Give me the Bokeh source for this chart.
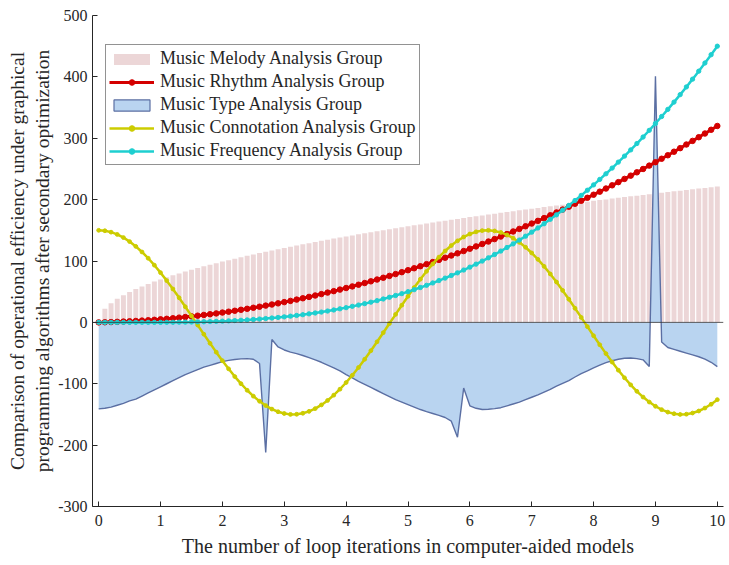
import numpy as np
from bokeh.plotting import figure
from bokeh.models import ColumnDataSource, Legend, LegendItem, FixedTicker, Span
from bokeh.embed import file_html
from bokeh.resources import INLINE

# ---------------- data ----------------
x_iter = [round(i * 0.1, 1) for i in range(101)]

melody = [0.0, 22.1, 31.3, 38.3, 44.3, 49.5, 54.2, 58.6, 62.6, 66.4, 70.0,
          73.4, 76.7, 79.8, 82.8, 85.7, 88.5, 91.3, 93.9, 96.5, 99.0,
          101.4, 103.8, 106.2, 108.4, 110.7, 112.9, 115.0, 117.1, 119.2, 121.2,
          123.2, 125.2, 127.2, 129.1, 131.0, 132.8, 134.6, 136.5, 138.2, 140.0,
          141.7, 143.5, 145.2, 146.8, 148.5, 150.1, 151.8, 153.4, 155.0, 156.5,
          158.1, 159.6, 161.2, 162.7, 164.2, 165.6, 167.1, 168.6, 170.0, 171.5,
          172.9, 174.3, 175.7, 177.1, 178.5, 179.8, 181.2, 182.5, 183.9, 185.2,
          186.5, 187.8, 189.1, 190.4, 191.7, 193.0, 194.2, 195.5, 196.7, 198.0,
          199.2, 200.4, 201.7, 202.9, 204.1, 205.3, 206.5, 207.7, 208.8, 210.0,
          211.2, 212.3, 213.5, 214.6, 215.8, 216.9, 218.0, 219.1, 220.2, 221.4]

rhythm = [0.0, 0.2, 0.5, 0.9, 1.3, 1.8, 2.3, 2.9, 3.5, 4.2, 5.0,
          5.8, 6.7, 7.7, 8.7, 9.8, 10.9, 12.1, 13.3, 14.6, 16.0,
          17.4, 18.9, 20.5, 22.1, 23.8, 25.5, 27.3, 29.1, 31.0, 33.0,
          35.0, 37.1, 39.3, 41.5, 43.8, 46.1, 48.5, 50.9, 53.4, 56.0,
          58.6, 61.3, 64.1, 66.9, 69.8, 72.7, 75.7, 78.7, 81.8, 85.0,
          88.2, 91.5, 94.9, 98.3, 101.8, 105.3, 108.9, 112.5, 116.2, 120.0,
          123.8, 127.7, 131.7, 135.7, 139.8, 143.9, 148.1, 152.3, 156.6, 161.0,
          165.4, 169.9, 174.5, 179.1, 183.8, 188.5, 193.3, 198.1, 203.0, 208.0,
          213.0, 218.1, 223.3, 228.5, 233.8, 239.1, 244.5, 249.9, 255.4, 261.0,
          266.6, 272.3, 278.1, 283.9, 289.8, 295.7, 301.7, 307.7, 313.8, 320.0]

music_type = [-141, -140, -138, -135, -132, -128, -125, -120, -115, -110, -105,
              -100, -95, -90, -85, -81, -77, -73, -70, -67, -64,
              -62, -60.5, -59.5, -59, -60, -67, -212, -28, -40, -45,
              -48.5, -51, -54, -57.5, -61, -65, -69.5, -74, -79, -85,
              -90.5, -96, -101, -106, -111, -116, -121, -126, -130, -134,
              -138, -142, -145.5, -148.5, -151.5, -155, -161, -187, -107, -136,
              -140, -142, -141.5, -140.5, -139, -136, -133, -130, -126, -122,
              -118, -113.5, -109, -104, -99.5, -95, -89, -83.5, -79, -74,
              -69.5, -65.5, -62.5, -60, -58.5, -58, -59, -61, -72, 401,
              -32, -41, -44, -47, -50, -53, -56, -60, -65, -72]

connotation = [150.0, 149.3, 147.0, 143.3, 138.2, 131.6, 123.8, 114.7, 104.5, 93.2, 81.0,
               68.0, 54.4, 40.1, 25.5, 10.6, -4.4, -19.3, -34.1, -48.5, -62.4,
               -75.7, -88.3, -99.9, -110.6, -120.2, -128.5, -135.6, -141.3, -145.6, -148.5,
               -149.9, -149.7, -148.1, -145.0, -140.5, -134.5, -127.2, -118.6, -108.9, -98.0,
               -86.2, -73.5, -60.1, -46.1, -31.6, -16.8, -1.9, 13.1, 28.0, 42.5,
               56.7, 70.3, 83.2, 95.2, 106.3, 116.3, 125.2, 132.8, 139.1, 144.0,
               147.5, 149.5, 150.0, 149.0, 146.5, 142.5, 137.2, 130.4, 122.4, 113.1,
               102.7, 91.3, 78.9, 65.8, 52.0, 37.7, 23.0, 8.1, -6.9, -21.8,
               -36.5, -50.9, -64.7, -77.9, -90.3, -101.8, -112.3, -121.7, -129.8, -136.7,
               -142.2, -146.2, -148.8, -150.0, -149.6, -147.7, -144.4, -139.6, -133.4, -125.9]

frequency = [0.0, 0.0, 0.0, 0.0, 0.0, 0.0, 0.0, 0.0, 0.0, 0.0, 0.0,
             0.1, 0.1, 0.3, 0.4, 0.6, 0.8, 1.0, 1.3, 1.6, 2.0,
             2.4, 2.9, 3.4, 4.0, 4.7, 5.4, 6.2, 7.1, 8.0, 9.0,
             10.1, 11.3, 12.5, 13.9, 15.3, 16.8, 18.5, 20.2, 22.1, 24.0,
             26.1, 28.2, 30.5, 32.9, 35.4, 38.1, 40.9, 43.8, 46.8, 50.0,
             53.3, 56.8, 60.4, 64.2, 68.1, 72.1, 76.4, 80.7, 85.3, 90.0,
             94.9, 99.9, 105.2, 110.6, 116.2, 122.0, 127.9, 134.1, 140.4, 147.0,
             153.8, 160.7, 167.9, 175.2, 182.8, 190.6, 198.6, 206.9, 215.3, 224.0,
             232.9, 242.1, 251.4, 261.1, 270.9, 281.0, 291.4, 302.0, 312.9, 324.0,
             335.4, 347.0, 358.9, 371.1, 383.6, 396.3, 409.3, 422.6, 436.1, 450.0]

series_names = ["Music Melody Analysis Group", "Music Rhythm Analysis Group",
                "Music Type Analysis Group", "Music Connotation Analysis Group",
                "Music Frequency Analysis Group"]

x_ticks = [0, 1, 2, 3, 4, 5, 6, 7, 8, 9, 10]
y_ticks = [-300, -200, -100, 0, 100, 200, 300, 400, 500]
y_tick_labels = ["-300", "-200", "-100", "0", "100", "200", "300", "400", "500"]

x_label = "The number of loop iterations in computer-aided models"
y_label = ("Comparison of operational efficiency under graphical\n"
           "programming algorithms after secondary optimization")

# ---------------- figure ----------------
FONT = "Liberation Serif"
TXT = "#262626"

src = ColumnDataSource(dict(x=x_iter, melody=melody, rhythm=rhythm, mtype=music_type,
                            conn=connotation, freq=frequency,
                            zero=[0] * len(x_iter)))

p = figure(width=729, height=565, x_range=(-0.1, 10.1), y_range=(-300, 500),
           output_backend="svg", toolbar_location=None,
           min_border_left=92, min_border_right=6, min_border_top=15, min_border_bottom=59)
p.outline_line_color = None
p.grid.visible = False
p.background_fill_color = "white"

bars = p.vbar(x="x", top="melody", width=0.08, bottom=0, source=src,
              fill_color="#ecd6d7", line_color=None)

area = p.varea(x="x", y1="zero", y2="mtype", source=src, fill_color="#b9d4f0")
area_edge = p.line(x="x", y="mtype", source=src, line_color="#5b6fa3", line_width=1.4)
# legend-only key for the area (no visible data)
key_src = ColumnDataSource(dict(l=[np.nan], r=[np.nan], t=[np.nan], b=[np.nan]))
area_key = p.quad(left="l", right="r", top="t", bottom="b", source=key_src,
                  fill_color="#b9d4f0", line_color="#5b6fa3", line_width=1.2)

p.add_layout(Span(location=0, dimension="width", line_color="#333333", line_width=0.8))

r_line = p.line(x="x", y="rhythm", source=src, line_color="#d40000", line_width=3)
r_dot = p.scatter(x="x", y="rhythm", source=src, size=5.5, marker="circle",
                  fill_color="#d40000", line_color="#d40000")

c_line = p.line(x="x", y="conn", source=src, line_color="#cccc00", line_width=2.5)
c_dot = p.scatter(x="x", y="conn", source=src, size=3.8, marker="circle",
                  fill_color="#cccc00", line_color="#cccc00")

f_line = p.line(x="x", y="freq", source=src, line_color="#1ecfd0", line_width=2.5)
f_dot = p.scatter(x="x", y="freq", source=src, size=4.3, marker="circle",
                  fill_color="#1ecfd0", line_color="#1ecfd0")

# ---------------- axes ----------------
for ax in (p.xaxis[0], p.yaxis[0]):
    ax.axis_line_color = TXT
    ax.axis_line_width = 1
    ax.major_tick_line_color = TXT
    ax.major_tick_in = 5
    ax.major_tick_out = 0
    ax.minor_tick_line_color = None
    ax.major_label_text_font = FONT
    ax.major_label_text_font_size = "16px"
    ax.major_label_text_color = TXT
    ax.axis_label_text_font = FONT
    ax.axis_label_text_font_style = "normal"
    ax.axis_label_text_color = TXT

p.xaxis[0].axis_label_text_font_size = "20px"
p.yaxis[0].axis_label_text_font_size = "19.5px"
p.xaxis[0].ticker = FixedTicker(ticks=x_ticks)
p.yaxis[0].ticker = FixedTicker(ticks=y_ticks)
p.yaxis[0].major_label_overrides = {t: s for t, s in zip(y_ticks, y_tick_labels)}
p.xaxis[0].major_label_standoff = 8
p.yaxis[0].major_label_standoff = 5
p.xaxis[0].axis_label = x_label
p.yaxis[0].axis_label = y_label
p.xaxis[0].axis_label_standoff = 6
p.yaxis[0].axis_label_standoff = 2

# ---------------- legend ----------------
legend = Legend(items=[
    LegendItem(label=series_names[0], renderers=[bars]),
    LegendItem(label=series_names[1], renderers=[r_line, r_dot]),
    LegendItem(label=series_names[2], renderers=[area_key]),
    LegendItem(label=series_names[3], renderers=[c_line, c_dot]),
    LegendItem(label=series_names[4], renderers=[f_line, f_dot]),
], location=(13, 341))
legend.label_text_font = FONT
legend.label_text_font_size = "18px"
legend.label_text_color = TXT
legend.glyph_width = 45
legend.glyph_height = 14
legend.label_height = 18
legend.label_standoff = 6
legend.spacing = 2
legend.padding = 3
legend.margin = 0
legend.border_line_color = TXT
legend.border_line_width = 1
legend.background_fill_color = "white"
legend.background_fill_alpha = 1
p.add_layout(legend, "center")

open("out.html", "w").write(file_html(p, INLINE))
